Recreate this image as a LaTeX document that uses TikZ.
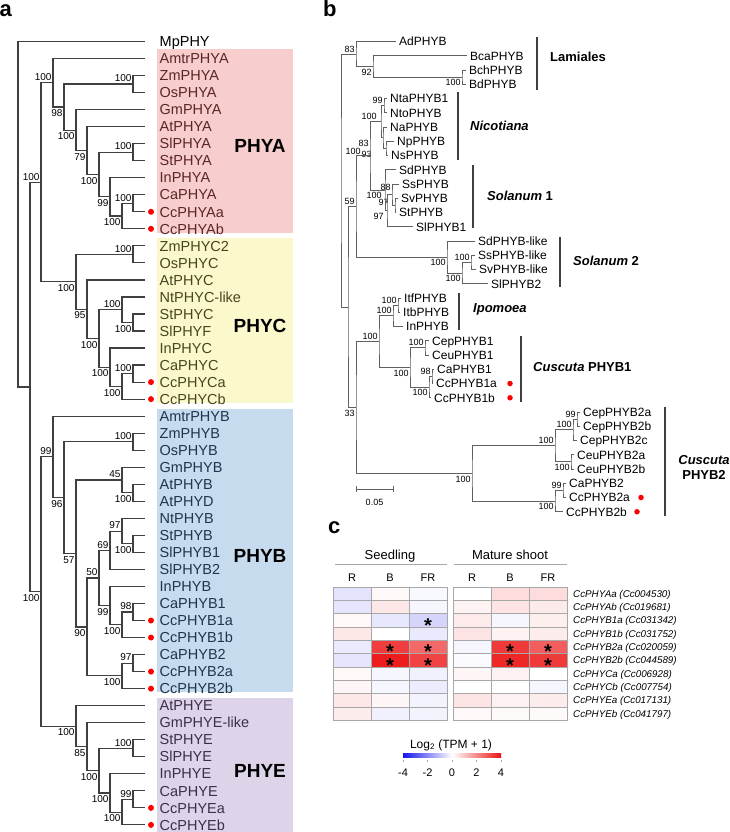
\documentclass[tikz,border=0pt]{standalone}
\usepackage{fontspec}
\setmainfont{Liberation Sans}
\usetikzlibrary{calc}

\definecolor{boxA}{RGB}{248,205,205}
\definecolor{boxC}{RGB}{251,248,204}
\definecolor{boxB}{RGB}{198,220,238}
\definecolor{boxE}{RGB}{221,212,233}
\definecolor{txtA}{RGB}{92,38,38}
\definecolor{txtC}{RGB}{72,70,32}
\definecolor{txtB}{RGB}{32,52,78}
\definecolor{txtE}{RGB}{58,48,72}
\definecolor{brc}{RGB}{64,64,64}
\definecolor{brb}{RGB}{96,96,96}
\definecolor{gridc}{RGB}{168,168,168}
\definecolor{hred}{RGB}{236,20,20}
\definecolor{hblue}{RGB}{20,20,240}

\newcommand\fsz[1]{\fontsize{#1}{#1}\selectfont}

\tikzstyle{br} = [draw=brc, line width=1.2pt]
\tikzstyle{bsa} = [anchor=south east, inner sep=1.3pt, yshift=0.6pt, font=\fsz{10}]
\tikzstyle{bsb} = [anchor=north east, inner sep=1.3pt, yshift=-1.2pt, font=\fsz{10}]
\tikzstyle{leafa} = [anchor=base west, inner sep=0pt, xshift=14.5pt, yshift=-5.2pt, font=\fsz{14.5}]
\tikzstyle{leafb} = [anchor=base west, inner sep=0pt, xshift=3pt, yshift=-4.3pt, font=\fsz{12}]
\tikzstyle{grp} = [font=\fsz{19}\bfseries, inner sep=0pt]
\tikzstyle{clade} = [anchor=west, inner sep=0pt, font=\fsz{13}\bfseries]
\tikzstyle{cbar} = [draw=brc, line width=1.3pt]
\tikzstyle{rdot} = [circle, fill=red, inner sep=0pt, minimum size=6pt]
\tikzstyle{plab} = [anchor=base west, inner sep=0pt, font=\fsz{22}\bfseries]
\tikzstyle{star} = [inner sep=0pt, text height=8pt, text depth=0pt, yshift=-7.6pt, font=\fsz{20}\bfseries]

% one inner node of a tree: name, x, upper child, lower child, support, label style
\newcommand\tnode[6]{%
  \path (#3) -- (#4) coordinate[pos=0.5] (#1-m);
  \coordinate (#1) at (#2,0 |- #1-m);
  \draw[br] (#3) -| (#1) |- (#4);
  \if\relax\detokenize{#5}\relax\else\node[#6] (#1-bs) at (#1) {#5};\fi}

\begin{document}
\begin{tikzpicture}[x=1pt, y=-1pt]
\useasboundingbox (0,0) rectangle (730,832);

\node[plab] (la) at (-0.5,17) {a};
\node[plab] (lb) at (323,17) {b};
\node[plab] (lc) at (328,533) {c};

% ---------- panel a ----------
\fill[boxA] (157,49) rectangle (293,233);
\fill[boxC] (157,238) rectangle (293,403);
\fill[boxB] (157,409) rectangle (293,692);
\fill[boxE] (157,698) rectangle (293,832);
\node[grp] (gA) at (260,146) {PHYA};
\node[grp] (gC) at (260,326) {PHYC};
\node[grp] (gB) at (260,556) {PHYB};
\node[grp] (gE) at (260,771) {PHYE};

\foreach \nm/\gc [count=\i from 0] in {MpPHY/black, AmtrPHYA/txtA, ZmPHYA/txtA,
    OsPHYA/txtA, GmPHYA/txtA, AtPHYA/txtA, SlPHYA/txtA, StPHYA/txtA, InPHYA/txtA,
    CaPHYA/txtA, CcPHYAa/txtA, CcPHYAb/txtA, ZmPHYC2/txtC, OsPHYC/txtC, AtPHYC/txtC,
    NtPHYC-like/txtC, StPHYC/txtC, SlPHYF/txtC, InPHYC/txtC, CaPHYC/txtC,
    CcPHYCa/txtC, CcPHYCb/txtC, AmtrPHYB/txtB, ZmPHYB/txtB, OsPHYB/txtB,
    GmPHYB/txtB, AtPHYB/txtB, AtPHYD/txtB, NtPHYB/txtB, StPHYB/txtB, SlPHYB1/txtB,
    SlPHYB2/txtB, InPHYB/txtB, CaPHYB1/txtB, CcPHYB1a/txtB, CcPHYB1b/txtB,
    CaPHYB2/txtB, CcPHYB2a/txtB, CcPHYB2b/txtB, AtPHYE/txtE, GmPHYE-like/txtE,
    StPHYE/txtE, SlPHYE/txtE, InPHYE/txtE, CaPHYE/txtE, CcPHYEa/txtE, CcPHYEb/txtE}
{
  \coordinate (a-\nm) at (145,{41.5+\i*17.03});
  \node[leafa, text=\gc] (at-\nm) at (a-\nm) {\nm};
}
\foreach \nm in {CcPHYAa, CcPHYAb, CcPHYCa, CcPHYCb, CcPHYB1a, CcPHYB1b,
    CcPHYB2a, CcPHYB2b, CcPHYEa, CcPHYEb}
  \node[rdot] (ad-\nm) at ($(a-\nm)+(6,0)$) {};

% PHYA
\tnode{aZmOsA}{133}{a-ZmPHYA}{a-OsPHYA}{100}{bsa}
\tnode{aSlStA}{133}{a-SlPHYA}{a-StPHYA}{100}{bsa}
\tnode{aCaCcA}{133}{a-CaPHYA}{a-CcPHYAa}{100}{bsa}
\tnode{aA7}{122}{aCaCcA}{a-CcPHYAb}{100}{bsb}
\tnode{aA6}{110}{a-InPHYA}{aA7}{99}{bsb}
\tnode{aA5}{99}{aSlStA}{aA6}{100}{bsb}
\tnode{aA4}{87}{a-AtPHYA}{aA5}{79}{bsb}
\tnode{aA3}{76}{a-GmPHYA}{aA4}{100}{bsb}
\tnode{aA2}{64}{aZmOsA}{aA3}{98}{bsb}
\tnode{aA}{53}{a-AmtrPHYA}{aA2}{100}{bsa}
% PHYC
\tnode{aZmOsC}{133}{a-ZmPHYC2}{a-OsPHYC}{100}{bsa}
\tnode{aStSlC}{133}{a-StPHYC}{a-SlPHYF}{100}{bsb}
\tnode{aCaCcC}{133}{a-CaPHYC}{a-CcPHYCa}{100}{bsa}
\tnode{aC6}{122}{aCaCcC}{a-CcPHYCb}{100}{bsb}
\tnode{aC5}{110}{a-InPHYC}{aC6}{100}{bsb}
\tnode{aC4}{122}{a-NtPHYC-like}{aStSlC}{100}{bsa}
\tnode{aC3}{99}{aC4}{aC5}{100}{bsb}
\tnode{aC2}{87}{a-AtPHYC}{aC3}{95}{bsb}
\tnode{aC}{76}{aZmOsC}{aC2}{100}{bsb}
\tnode{aAC}{41}{aA}{aC}{100}{bsa}
% PHYB
\tnode{aZmOsB}{133}{a-ZmPHYB}{a-OsPHYB}{100}{bsa}
\tnode{aAtAt}{133}{a-AtPHYB}{a-AtPHYD}{100}{bsb}
\tnode{aGmAt}{122}{a-GmPHYB}{aAtAt}{45}{bsa}
\tnode{aStSlB}{133}{a-StPHYB}{a-SlPHYB1}{100}{bsb}
\tnode{aNtB}{122}{a-NtPHYB}{aStSlB}{97}{bsa}
\tnode{aB69}{110}{aNtB}{a-SlPHYB2}{69}{bsa}
\tnode{aCaCcB1}{133}{a-CaPHYB1}{a-CcPHYB1a}{98}{bsa}
\tnode{aB1c}{122}{aCaCcB1}{a-CcPHYB1b}{100}{bsb}
\tnode{aB99}{110}{a-InPHYB}{aB1c}{99}{bsb}
\tnode{aB50}{99}{aB69}{aB99}{50}{bsa}
\tnode{aCaCcB2}{133}{a-CaPHYB2}{a-CcPHYB2a}{97}{bsa}
\tnode{aB2c}{122}{aCaCcB2}{a-CcPHYB2b}{100}{bsb}
\tnode{aB90}{87}{aB50}{aB2c}{90}{bsb}
\tnode{aB57}{76}{aGmAt}{aB90}{57}{bsb}
\tnode{aB96}{64}{aZmOsB}{aB57}{96}{bsb}
\tnode{aB}{53}{a-AmtrPHYB}{aB96}{99}{bsa}
% PHYE
\tnode{aStSlE}{133}{a-StPHYE}{a-SlPHYE}{100}{bsa}
\tnode{aCaCcE}{133}{a-CaPHYE}{a-CcPHYEa}{99}{bsa}
\tnode{aE5}{122}{aCaCcE}{a-CcPHYEb}{100}{bsb}
\tnode{aE4}{110}{a-InPHYE}{aE5}{100}{bsb}
\tnode{aE3}{99}{aStSlE}{aE4}{100}{bsb}
\tnode{aE2}{87}{a-GmPHYE-like}{aE3}{85}{bsb}
\tnode{aE}{76}{a-AtPHYE}{aE2}{100}{bsb}
\tnode{aBE}{41}{aB}{aE}{100}{bsb}
% root
\tnode{aIn}{30}{aAC}{aBE}{}{bsa}
\tnode{aRoot}{18}{a-MpPHY}{aIn}{}{bsa}

% ---------- panel b ----------
\begin{scope}[br/.style={draw=brb, line width=0.9pt},
    bsa/.style={anchor=south east, inner sep=1.2pt, yshift=0.4pt, font=\fsz{9}},
    bsb/.style={anchor=north east, inner sep=1.2pt, yshift=-1pt, font=\fsz{9}},
    rdot/.style={circle, fill=red, inner sep=0pt, minimum size=5.5pt}]
\foreach \nm/\tx [count=\i from 0] in {AdPHYB/396, BcaPHYB/467, BchPHYB/466,
    BdPHYB/466, NtaPHYB1/387, NtoPHYB/387, NaPHYB/387, NpPHYB/394, NsPHYB/388,
    SdPHYB/396, SsPHYB/399, SvPHYB/398, StPHYB/396, SlPHYB1/413, SdPHYB-like/475,
    SsPHYB-like/475, SvPHYB-like/476, SlPHYB2/488, ItfPHYB/401, ItbPHYB/400,
    InPHYB/403, CepPHYB1/429, CeuPHYB1/429, CaPHYB1/434, CcPHYB1a/433,
    CcPHYB1b/431, CepPHYB2a/580, CepPHYB2b/580, CepPHYB2c/577, CeuPHYB2a/574,
    CeuPHYB2b/574, CaPHYB2/566, CcPHYB2a/566, CcPHYB2b/563}
{
  \coordinate (b-\nm) at (\tx,{41.5+\i*14.25});
  \node[leafb] (bt-\nm) at (b-\nm) {\nm};
}
\node[rdot] (bd-CcPHYB1a) at ($(b-CcPHYB1a)+(77,0)$) {};
\node[rdot] (bd-CcPHYB1b) at ($(b-CcPHYB1b)+(79,0)$) {};
\node[rdot] (bd-CcPHYB2a) at ($(b-CcPHYB2a)+(75,0)$) {};
\node[rdot] (bd-CcPHYB2b) at ($(b-CcPHYB2b)+(74,0)$) {};

% Lamiales
\tnode{bBchBd}{462}{b-BchPHYB}{b-BdPHYB}{100}{bsb}
\tnode{bLam2}{373}{b-BcaPHYB}{bBchBd}{92}{bsb}
\tnode{bLam}{356}{b-AdPHYB}{bLam2}{83}{bsa}
% Nicotiana and Solanum
\tnode{bNtaNto}{384}{b-NtaPHYB1}{b-NtoPHYB}{99}{bsa}
\tnode{bNpNs}{386}{b-NpPHYB}{b-NsPHYB}{93}{bsb, xshift=-13pt}
\tnode{bNic2}{383}{b-NaPHYB}{bNpNs}{83}{bsb, xshift=-13pt}
\tnode{bNic}{381}{bNtaNto}{bNic2}{100}{bsa, xshift=-3pt}
\tnode{bSvSt}{395}{b-SvPHYB}{b-StPHYB}{97}{bsa, xshift=-5pt, yshift=-2pt}
\tnode{bSolY}{392}{b-SsPHYB}{bSvSt}{88}{bsa, yshift=2pt}
\tnode{bSolK}{387}{bSolY}{b-SlPHYB1}{97}{bsb, xshift=-2pt}
\tnode{bSol1}{385}{b-SdPHYB}{bSolK}{100}{bsb, xshift=-2pt}
\tnode{bNS1}{370}{bNic}{bSol1}{100}{bsa, xshift=-8pt}
\tnode{bSol2R}{471}{b-SsPHYB-like}{b-SvPHYB-like}{100}{bsa}
\tnode{bSol2Q}{462}{bSol2R}{b-SlPHYB2}{100}{bsb}
\tnode{bSol2}{447}{b-SdPHYB-like}{bSol2Q}{100}{bsb}
\tnode{bSolan}{356}{bNS1}{bSol2}{59}{bsa}
% Ipomoea and Cuscuta
\tnode{bItf}{398}{b-ItfPHYB}{b-ItbPHYB}{100}{bsa}
\tnode{bIpo}{393}{bItf}{b-InPHYB}{100}{bsa}
\tnode{bCepCeu}{425}{b-CepPHYB1}{b-CeuPHYB1}{100}{bsa}
\tnode{bCaCc}{432}{b-CaPHYB1}{b-CcPHYB1a}{98}{bsa}
\tnode{bCB1b}{429}{bCaCc}{b-CcPHYB1b}{100}{bsb}
\tnode{bCB1}{410}{bCepCeu}{bCB1b}{100}{bsb}
\tnode{bIC}{379}{bIpo}{bCB1}{100}{bsa}
\tnode{bCepAB}{577}{b-CepPHYB2a}{b-CepPHYB2b}{99}{bsa}
\tnode{bCep}{573}{bCepAB}{b-CepPHYB2c}{100}{bsa}
\tnode{bCeu2}{571}{b-CeuPHYB2a}{b-CeuPHYB2b}{100}{bsb}
\tnode{bM}{555}{bCep}{bCeu2}{100}{bsa}
\tnode{bCaCc2}{563}{b-CaPHYB2}{b-CcPHYB2a}{99}{bsa}
\tnode{bQ}{555}{bCaCc2}{b-CcPHYB2b}{100}{bsb}
\tnode{bCB2}{472}{bM}{bQ}{100}{bsb}
\tnode{bConv}{356}{bIC}{bCB2}{33}{bsb}
% root
\tnode{bCore}{348}{bSolan}{bConv}{}{bsa}
\tnode{bRoot}{341}{bLam}{bCore}{}{bsa}

% clade bars
\draw[cbar] (537,37) -- (537,90);
\node[clade] (cLam) at (550,57) {Lamiales};
\draw[cbar] (458,92) -- (458,160);
\node[clade] (cNic) at (470,126) {\itshape Nicotiana};
\draw[cbar] (473,165) -- (473,228);
\node[clade] (cSol1) at (487,196) {\textit{Solanum} 1};
\draw[cbar] (560,237) -- (560,287);
\node[clade] (cSol2) at (573,261) {\textit{Solanum} 2};
\draw[cbar] (459,293) -- (459,330);
\node[clade] (cIpo) at (473,309) {\itshape Ipomoea};
\draw[cbar] (521,336) -- (521,402);
\node[clade] (cCB1) at (533,367) {\textit{Cuscuta} PHYB1};
\draw[cbar] (665,407) -- (665,516);
\node[clade, anchor=center, align=center] (cCB2) at (704,467)
  {\textit{Cuscuta}\\[2pt]PHYB2};

% scale bar
\coordinate (sb1) at (356,489);
\coordinate (sb2) at (393,489);
\draw[br] (sb1) -- (sb2);
\draw[br] ($(sb1)+(0,-3)$) -- ($(sb1)+(0,3)$);
\draw[br] ($(sb2)+(0,-3)$) -- ($(sb2)+(0,3)$);
\node[font=\fsz{9}] (sbl) at (374.5,502) {0.05};
\end{scope}

% ---------- panel c ----------
\node[anchor=base, font=\fsz{13}] (hSeed) at (390,559.5) {Seedling};
\node[anchor=base, font=\fsz{13}] (hMat) at (510,559.5) {Mature shoot};
\draw[draw=gridc, line width=1pt] (335,564) -- (447,564);
\draw[draw=gridc, line width=1pt] (454,564) -- (567,564);
\foreach \t/\x [count=\k] in {R/352, B/390, FR/428, R/472, B/510, FR/548}
  \node[anchor=base, font=\fsz{11}] (col\k) at (\x,581) {\t};

\foreach \vals [count=\row] in {{-12,3,-3,0,15,15},{-11,10,-4,5,12,9},
    {3,-10,-18,9,-4,7},{10,0,-9,12,5,8},{-9,82,64,-4,84,69},{-11,96,80,-2,92,84},
    {3,-4,-6,4,6,0},{4,-4,-8,0,0,-4},{10,4,-5,11,6,8},{8,-6,-5,3,2,2}}
{
  \foreach \v [count=\col] in \vals {
    \pgfmathsetmacro\cx{\col<4 ? 333+(\col-1)*38 : 453+(\col-4)*38}
    \pgfmathsetmacro\cy{587+(\row-1)*13.33}
    \pgfmathtruncatemacro\w{abs(\v)}
    \ifnum\v<0 \def\hc{hblue!\w!white}\else\def\hc{hred!\w!white}\fi
    \filldraw[fill=\hc, draw=gridc, line width=0.8pt] (\cx,\cy) rectangle ++(38,13.33);
  }
}
\draw[draw=gridc, line width=1pt] (333,587) rectangle (447,720.3);
\draw[draw=gridc, line width=1pt] (453,587) rectangle (567,720.3);

% significant cells
\foreach \ax/\ay [count=\k] in {428/620.4, 390/647.0, 428/647.0, 510/647.0,
    548/647.0, 390/660.4, 428/660.4, 510/660.4, 548/660.4}
  \node[star] (ast\k) at (\ax,\ay) {*};

\foreach \g/\id [count=\k] in {CcPHYAa/Cc004530, CcPHYAb/Cc019681,
    CcPHYB1a/Cc031342, CcPHYB1b/Cc031752, CcPHYB2a/Cc020059, CcPHYB2b/Cc044589,
    CcPHYCa/Cc006928, CcPHYCb/Cc007754, CcPHYEa/Cc017131, CcPHYEb/Cc041797}
  \node[anchor=base west, inner sep=0pt, font=\fsz{9.8}\itshape] (gn\k)
    at (573,{597.2+(\k-1)*13.33}) {\g{} (\id)};

% colour key
\node[anchor=base, font=\fsz{12}] (key) at (451,748) {Log\textsubscript{2} (TPM + 1)};
\shade[left color=hblue, right color=white] (403,753) rectangle (452,757.5);
\shade[left color=white, right color=hred] (452,753) rectangle (501,757.5);
\foreach \t/\x [count=\k] in {-4/403, -2/427.5, 0/452, 2/476.5, 4/501} {
  \draw[gridc, line width=0.6pt] (\x,759.5) -- (\x,761.5);
  \node[anchor=base, font=\fsz{11}] (tk\k) at (\x,776) {\t};
}
\end{tikzpicture}
\end{document}
